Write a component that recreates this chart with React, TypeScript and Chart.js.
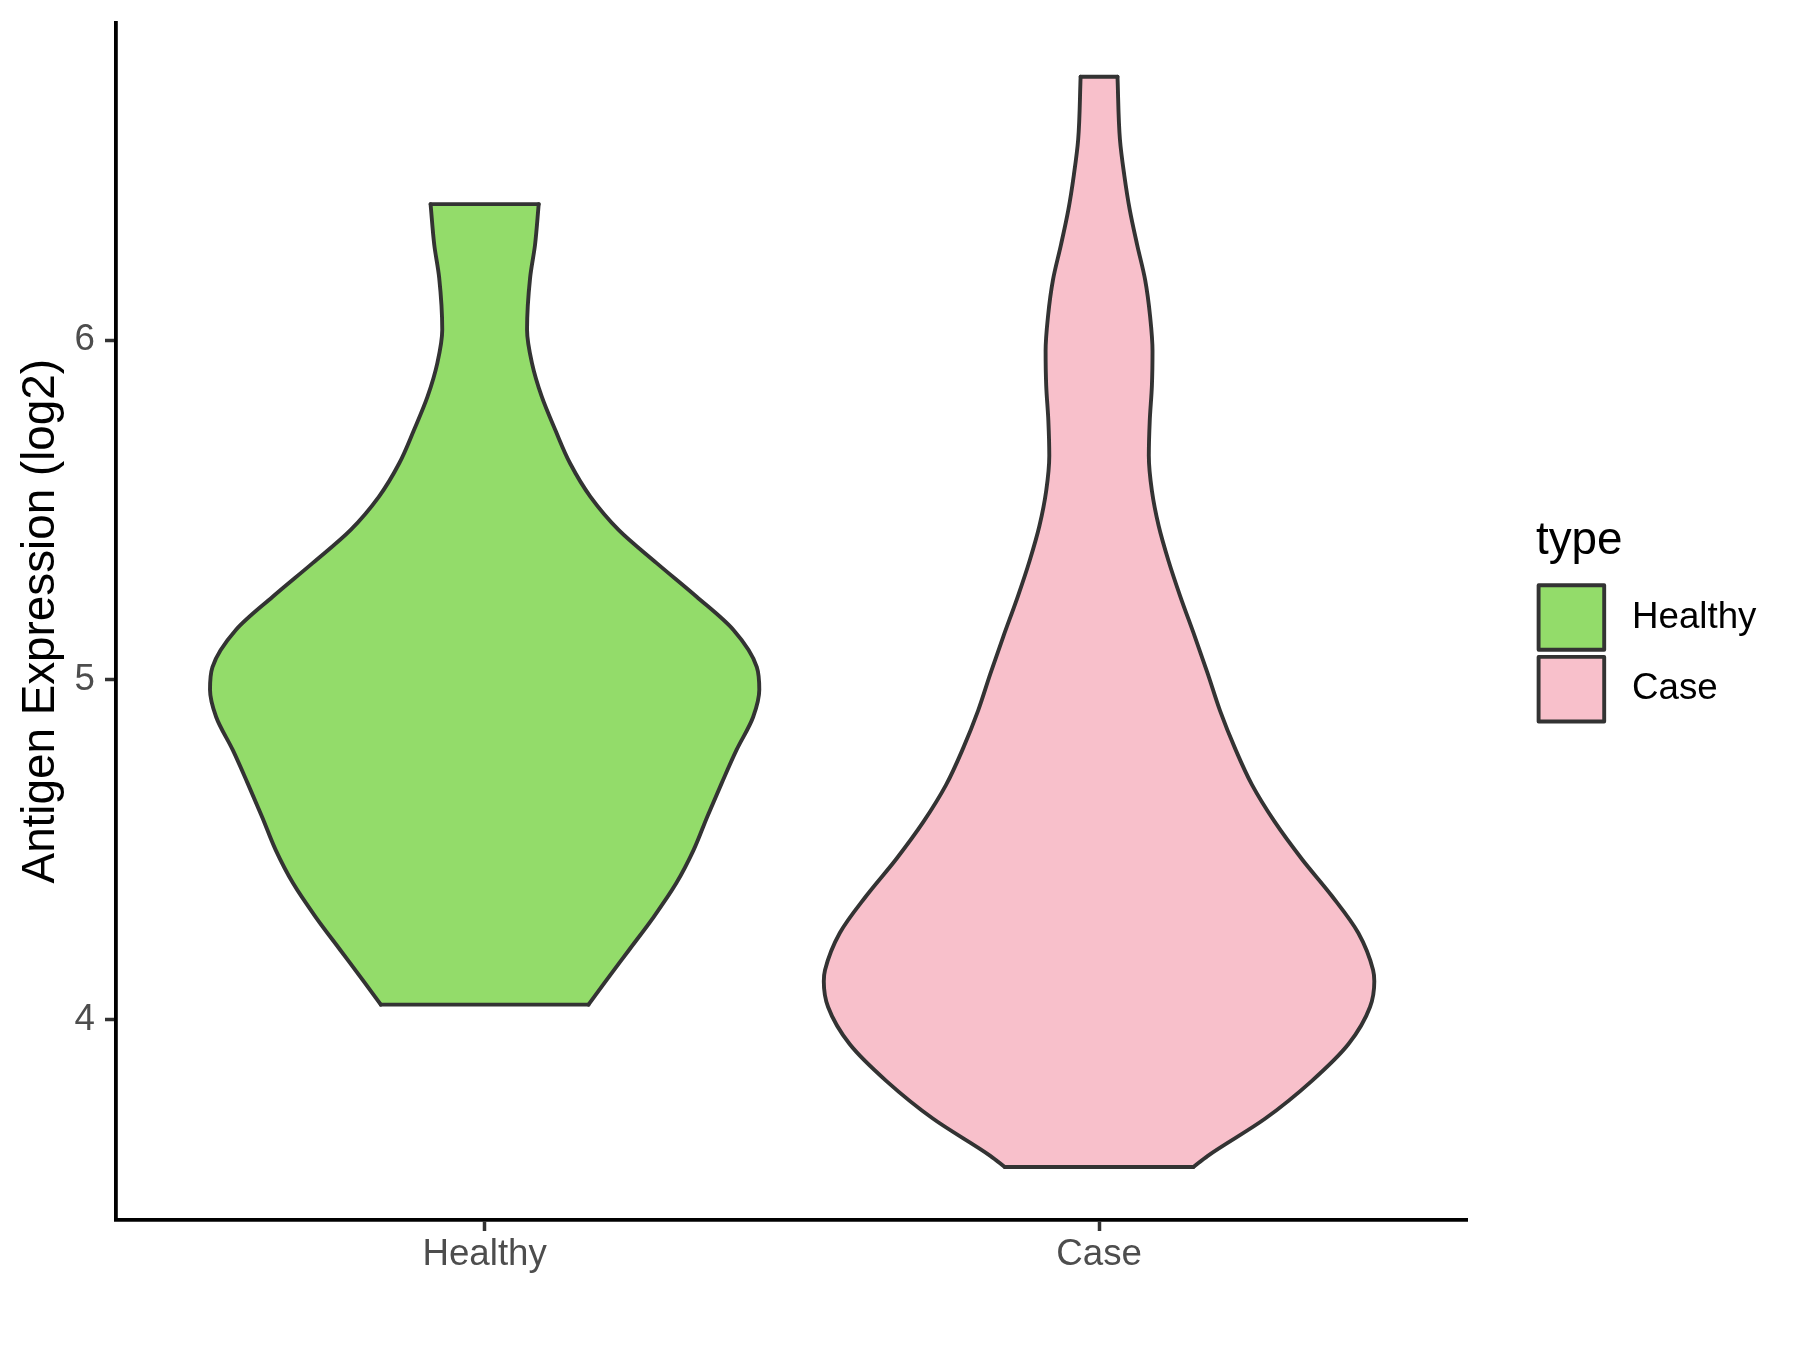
import React, { useEffect, useRef } from "react";
import { Chart, registerables } from "chart.js";

Chart.register(...registerables);

// ---- data ----
const categories = ["Healthy", "Case"];
const categoryPositions = [1, 2];
const fillColors = ["#93DC6A", "#F8C0CB"];
const yTickValues = [4, 5, 6];
const yAxisTitle = "Antigen Expression (log2)";
const legendTitle = "type";

// violin outline: expression level (log2) and half-width (x-axis units), bottom to top
const healthyLevels = [4.044, 4.108, 4.205, 4.302, 4.402, 4.499, 4.596, 4.697, 4.794, 4.891, 4.971, 5.038, 5.147, 5.245, 5.344, 5.442, 5.54, 5.638, 5.736, 5.834, 5.933, 6.031, 6.184, 6.281, 6.401];
const healthyHalfWidths = [0.169, 0.195, 0.235, 0.275, 0.312, 0.34, 0.362, 0.386, 0.41, 0.437, 0.447, 0.443, 0.405, 0.345, 0.28, 0.218, 0.172, 0.139, 0.115, 0.093, 0.077, 0.069, 0.074, 0.082, 0.088];

const caseLevels = [3.566, 3.599, 3.708, 3.819, 3.928, 4.037, 4.113, 4.146, 4.255, 4.364, 4.473, 4.582, 4.691, 4.8, 4.909, 5.018, 5.127, 5.247, 5.351, 5.454, 5.557, 5.66, 5.763, 5.866, 5.969, 6.072, 6.178, 6.281, 6.384, 6.487, 6.591, 6.776];
const caseHalfWidths = [0.1535, 0.177, 0.27, 0.346, 0.406, 0.441, 0.448, 0.446, 0.422, 0.379, 0.33, 0.286, 0.249, 0.221, 0.197, 0.177, 0.156, 0.132, 0.113, 0.097, 0.086, 0.081, 0.0825, 0.086, 0.087, 0.083, 0.075, 0.062, 0.05, 0.041, 0.034, 0.03];

// ---- styles ----
const FONT = "'Liberation Sans', Arial, Helvetica, sans-serif";
const OUTLINE = "#333333";
const LINE_W = 3.9;

function violinDatasets(center: number, levels: number[], hws: number[], color: string): any[] {
  const n = levels.length;
  const right = levels.map((v, i) => ({ x: center + hws[i], y: v }));
  const left = levels.map((v, i) => ({ x: center - hws[i], y: v }));
  const top = [
    { x: center - hws[n - 1], y: levels[n - 1] },
    { x: center + hws[n - 1], y: levels[n - 1] },
  ];
  const bottom = [
    { x: center - hws[0], y: levels[0] },
    { x: center + hws[0], y: levels[0] },
  ];
  const common = {
    borderColor: OUTLINE,
    borderWidth: LINE_W,
    pointRadius: 0,
    pointHoverRadius: 0,
    indexAxis: "y",
    borderJoinStyle: "round",
    borderCapStyle: "round",
  };
  return [
    { ...common, data: top, fill: false, tension: 0 },
    { ...common, data: bottom, fill: false, tension: 0 },
    { ...common, data: right, fill: false, cubicInterpolationMode: "monotone" },
    { ...common, data: left, fill: "-1", backgroundColor: color, cubicInterpolationMode: "monotone" },
  ];
}

const legendPlugin = {
  id: "ggLegend",
  afterDraw(chart: any) {
    const ctx = chart.ctx as CanvasRenderingContext2D;
    ctx.save();
    ctx.font = `45.8px ${FONT}`;
    ctx.fillStyle = "#000000";
    ctx.textAlign = "left";
    ctx.textBaseline = "alphabetic";
    ctx.fillText(legendTitle, 1536, 554);
    categories.forEach((c, i) => {
      const x0 = 1538.6;
      const y0 = 585.2 + i * 71.7;
      const w = 65.6;
      const h = 64.6;
      ctx.fillStyle = fillColors[i];
      ctx.fillRect(x0, y0, w, h);
      ctx.strokeStyle = OUTLINE;
      ctx.lineWidth = LINE_W;
      ctx.lineJoin = "round";
      ctx.strokeRect(x0, y0, w, h);
      ctx.font = `36.7px ${FONT}`;
      ctx.fillStyle = "#000000";
      ctx.textBaseline = "middle";
      ctx.fillText(c, 1632, y0 + h / 2);
    });
    ctx.restore();
  },
};

export default function App() {
  const canvasRef = useRef<HTMLCanvasElement | null>(null);

  useEffect(() => {
    document.body.style.margin = "0";
    const canvas = canvasRef.current;
    if (!canvas) return;
    const datasets = [
      ...violinDatasets(categoryPositions[0], healthyLevels, healthyHalfWidths, fillColors[0]),
      ...violinDatasets(categoryPositions[1], caseLevels, caseHalfWidths, fillColors[1]),
    ];
    const chart = new Chart(canvas, {
      type: "line",
      data: { datasets },
      plugins: [legendPlugin],
      options: {
        indexAxis: "y",
        animation: false,
        responsive: false,
        devicePixelRatio: 1,
        layout: { padding: { top: 22.4, right: 332.3, left: 0, bottom: 0 } },
        plugins: {
          legend: { display: false },
          tooltip: { enabled: false },
          filler: { propagate: false },
        },
        elements: { point: { radius: 0 } },
        scales: {
          x: {
            type: "linear",
            position: "bottom",
            min: 0.4,
            max: 2.6,
            afterBuildTicks: (scale: any) => {
              scale.ticks = categoryPositions.map((v) => ({ value: v }));
            },
            afterFit: (scale: any) => {
              scale.height = 130;
              scale.paddingLeft = 0;
              scale.paddingRight = 0;
              scale.paddingTop = 0;
              scale.paddingBottom = 0;
            },
            ticks: {
              callback: (value: any) => {
                const idx = categoryPositions.indexOf(Number(value));
                return idx >= 0 ? categories[idx] : "";
              },
              font: { size: 36.7, family: FONT },
              color: "#4D4D4D",
              padding: 2,
              maxRotation: 0,
              autoSkip: false,
            },
            grid: {
              display: true,
              drawOnChartArea: false,
              drawTicks: true,
              tickLength: 11,
              tickColor: OUTLINE,
              tickWidth: 3.5,
            },
            border: { display: true, color: "#000000", width: 3.8 },
          },
          y: {
            type: "linear",
            position: "left",
            min: 3.41,
            max: 6.936,
            afterBuildTicks: (scale: any) => {
              scale.ticks = yTickValues.map((v) => ({ value: v }));
            },
            afterFit: (scale: any) => {
              scale.width = 116;
              scale.paddingTop = 0;
              scale.paddingBottom = 0;
              scale.paddingLeft = 0;
              scale.paddingRight = 0;
            },
            ticks: {
              callback: (value: any) => String(value),
              font: { size: 36.7, family: FONT },
              color: "#4D4D4D",
              padding: 10,
            },
            grid: {
              display: true,
              drawOnChartArea: false,
              drawTicks: true,
              tickLength: 11,
              tickColor: OUTLINE,
              tickWidth: 3.5,
            },
            border: { display: true, color: "#000000", width: 3.8 },
            title: {
              display: true,
              text: yAxisTitle,
              font: { size: 45.8, family: FONT },
              color: "#000000",
              padding: { top: 13.5, bottom: 0 },
            },
          },
        },
      } as any,
    } as any);
    return () => {
      chart.destroy();
    };
  }, []);

  return (
    <canvas
      ref={canvasRef}
      width={1800}
      height={1350}
      style={{ display: "block", width: "1800px", height: "1350px" }}
    />
  );
}
